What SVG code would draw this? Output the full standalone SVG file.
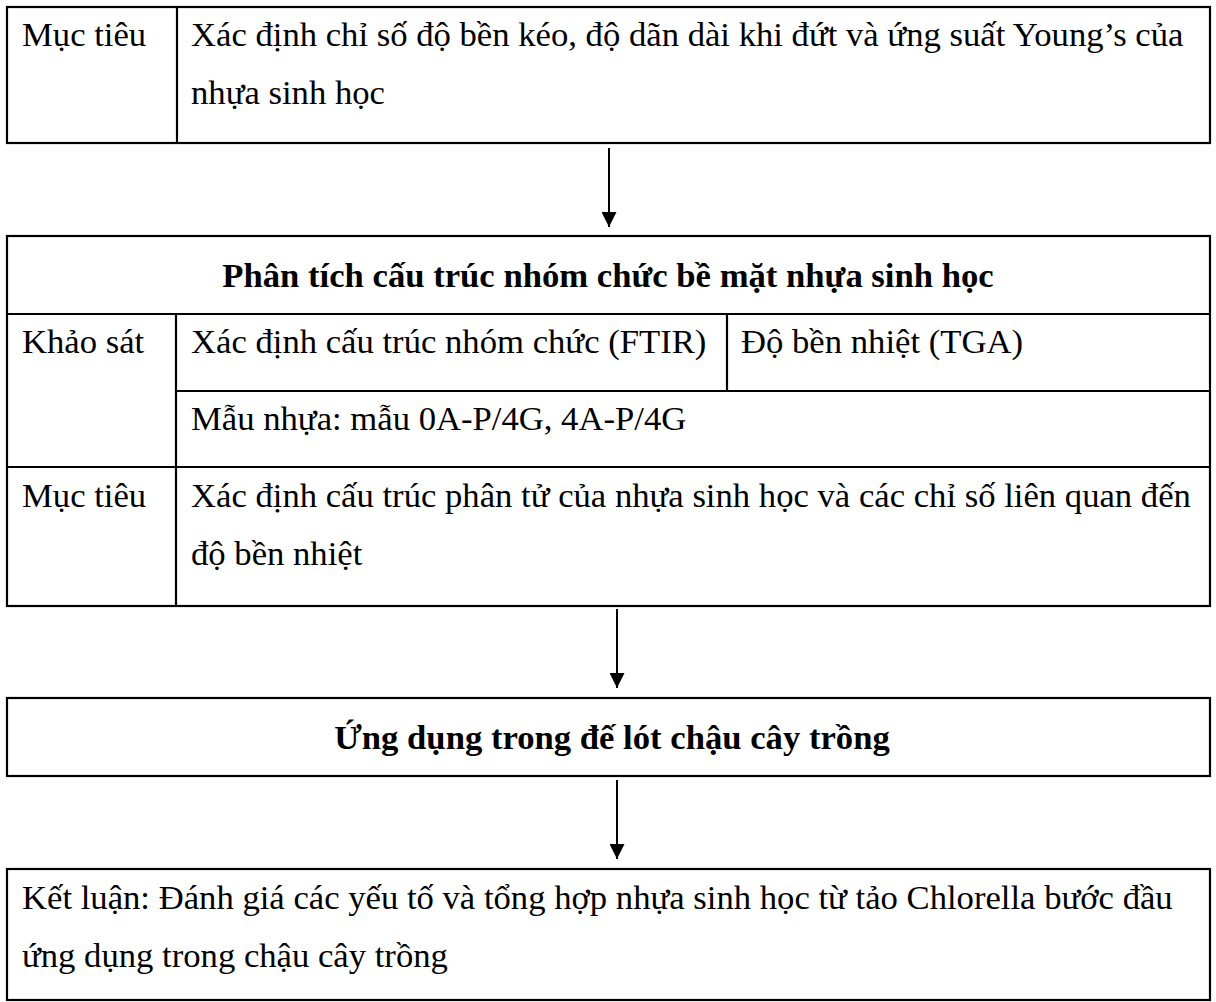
<svg xmlns="http://www.w3.org/2000/svg" width="1216" height="1002" viewBox="0 0 1216 1002">
  <style>
    .box { fill: #ffffff; stroke: #000000; stroke-width: 2.2; }
    .ln { stroke: #000000; stroke-width: 2.2; fill: none; }
    .t { font-family: "Liberation Serif", "Times New Roman", serif; font-size: 34.67px; fill: #000000; }
    .h { font-family: "Liberation Serif", "Times New Roman", serif; font-size: 34.67px; font-weight: bold; fill: #000000; text-anchor: middle; }
    .conn { stroke: #000000; stroke-width: 2; fill: none; }
  </style>
  <defs>
    <marker id="arrow" viewBox="0 0 15 15" refX="15" refY="7.5" markerWidth="15" markerHeight="15" markerUnits="userSpaceOnUse" orient="auto">
      <path d="M0,0 L15,7.5 L0,15 Z" fill="#000000"/>
    </marker>
  </defs>
  <rect width="1216" height="1002" fill="#ffffff"/>

  <g id="node-objective-1">
    <rect class="box" x="7" y="7" width="1203" height="136"/>
    <line class="ln" x1="177" y1="7" x2="177" y2="143"/>
    <text class="t" x="22" y="46">Mục tiêu</text>
    <text class="t" x="191" y="46">Xác định chỉ số độ bền kéo, độ dãn dài khi đứt và ứng suất Young’s của</text>
    <text class="t" x="191" y="104">nhựa sinh học</text>
  </g>

  <g id="node-analysis">
    <rect class="box" x="7" y="236" width="1203" height="370"/>
    <line class="ln" x1="7" y1="314" x2="1210" y2="314"/>
    <line class="ln" x1="176" y1="391" x2="1210" y2="391"/>
    <line class="ln" x1="7" y1="467" x2="1210" y2="467"/>
    <line class="ln" x1="176" y1="314" x2="176" y2="606"/>
    <line class="ln" x1="727" y1="314" x2="727" y2="391"/>
    <text class="h" x="608" y="287">Phân tích cấu trúc nhóm chức bề mặt nhựa sinh học</text>
    <text class="t" x="22" y="353">Khảo sát</text>
    <text class="t" x="191" y="353">Xác định cấu trúc nhóm chức (FTIR)</text>
    <text class="t" x="741" y="353">Độ bền nhiệt (TGA)</text>
    <text class="t" x="191" y="430">Mẫu nhựa: mẫu 0A-P/4G, 4A-P/4G</text>
    <text class="t" x="22" y="507">Mục tiêu</text>
    <text class="t" x="191" y="507">Xác định cấu trúc phân tử của nhựa sinh học và các chỉ số liên quan đến</text>
    <text class="t" x="191" y="565">độ bền nhiệt</text>
  </g>

  <g id="node-application">
    <rect class="box" x="7" y="698" width="1203" height="78"/>
    <text class="h" x="612" y="749">Ứng dụng trong đế lót chậu cây trồng</text>
  </g>

  <g id="node-conclusion">
    <rect class="box" x="7" y="869" width="1203" height="131"/>
    <text class="t" x="22" y="909">Kết luận: Đánh giá các yếu tố và tổng hợp nhựa sinh học từ tảo Chlorella bước đầu</text>
    <text class="t" x="22" y="967">ứng dụng trong chậu cây trồng</text>
  </g>

  <g id="connectors">
    <line class="conn" x1="609" y1="148" x2="609" y2="227" marker-end="url(#arrow)"/>
    <line class="conn" x1="617" y1="609" x2="617" y2="688" marker-end="url(#arrow)"/>
    <line class="conn" x1="617" y1="780" x2="617" y2="859" marker-end="url(#arrow)"/>
  </g>
</svg>
